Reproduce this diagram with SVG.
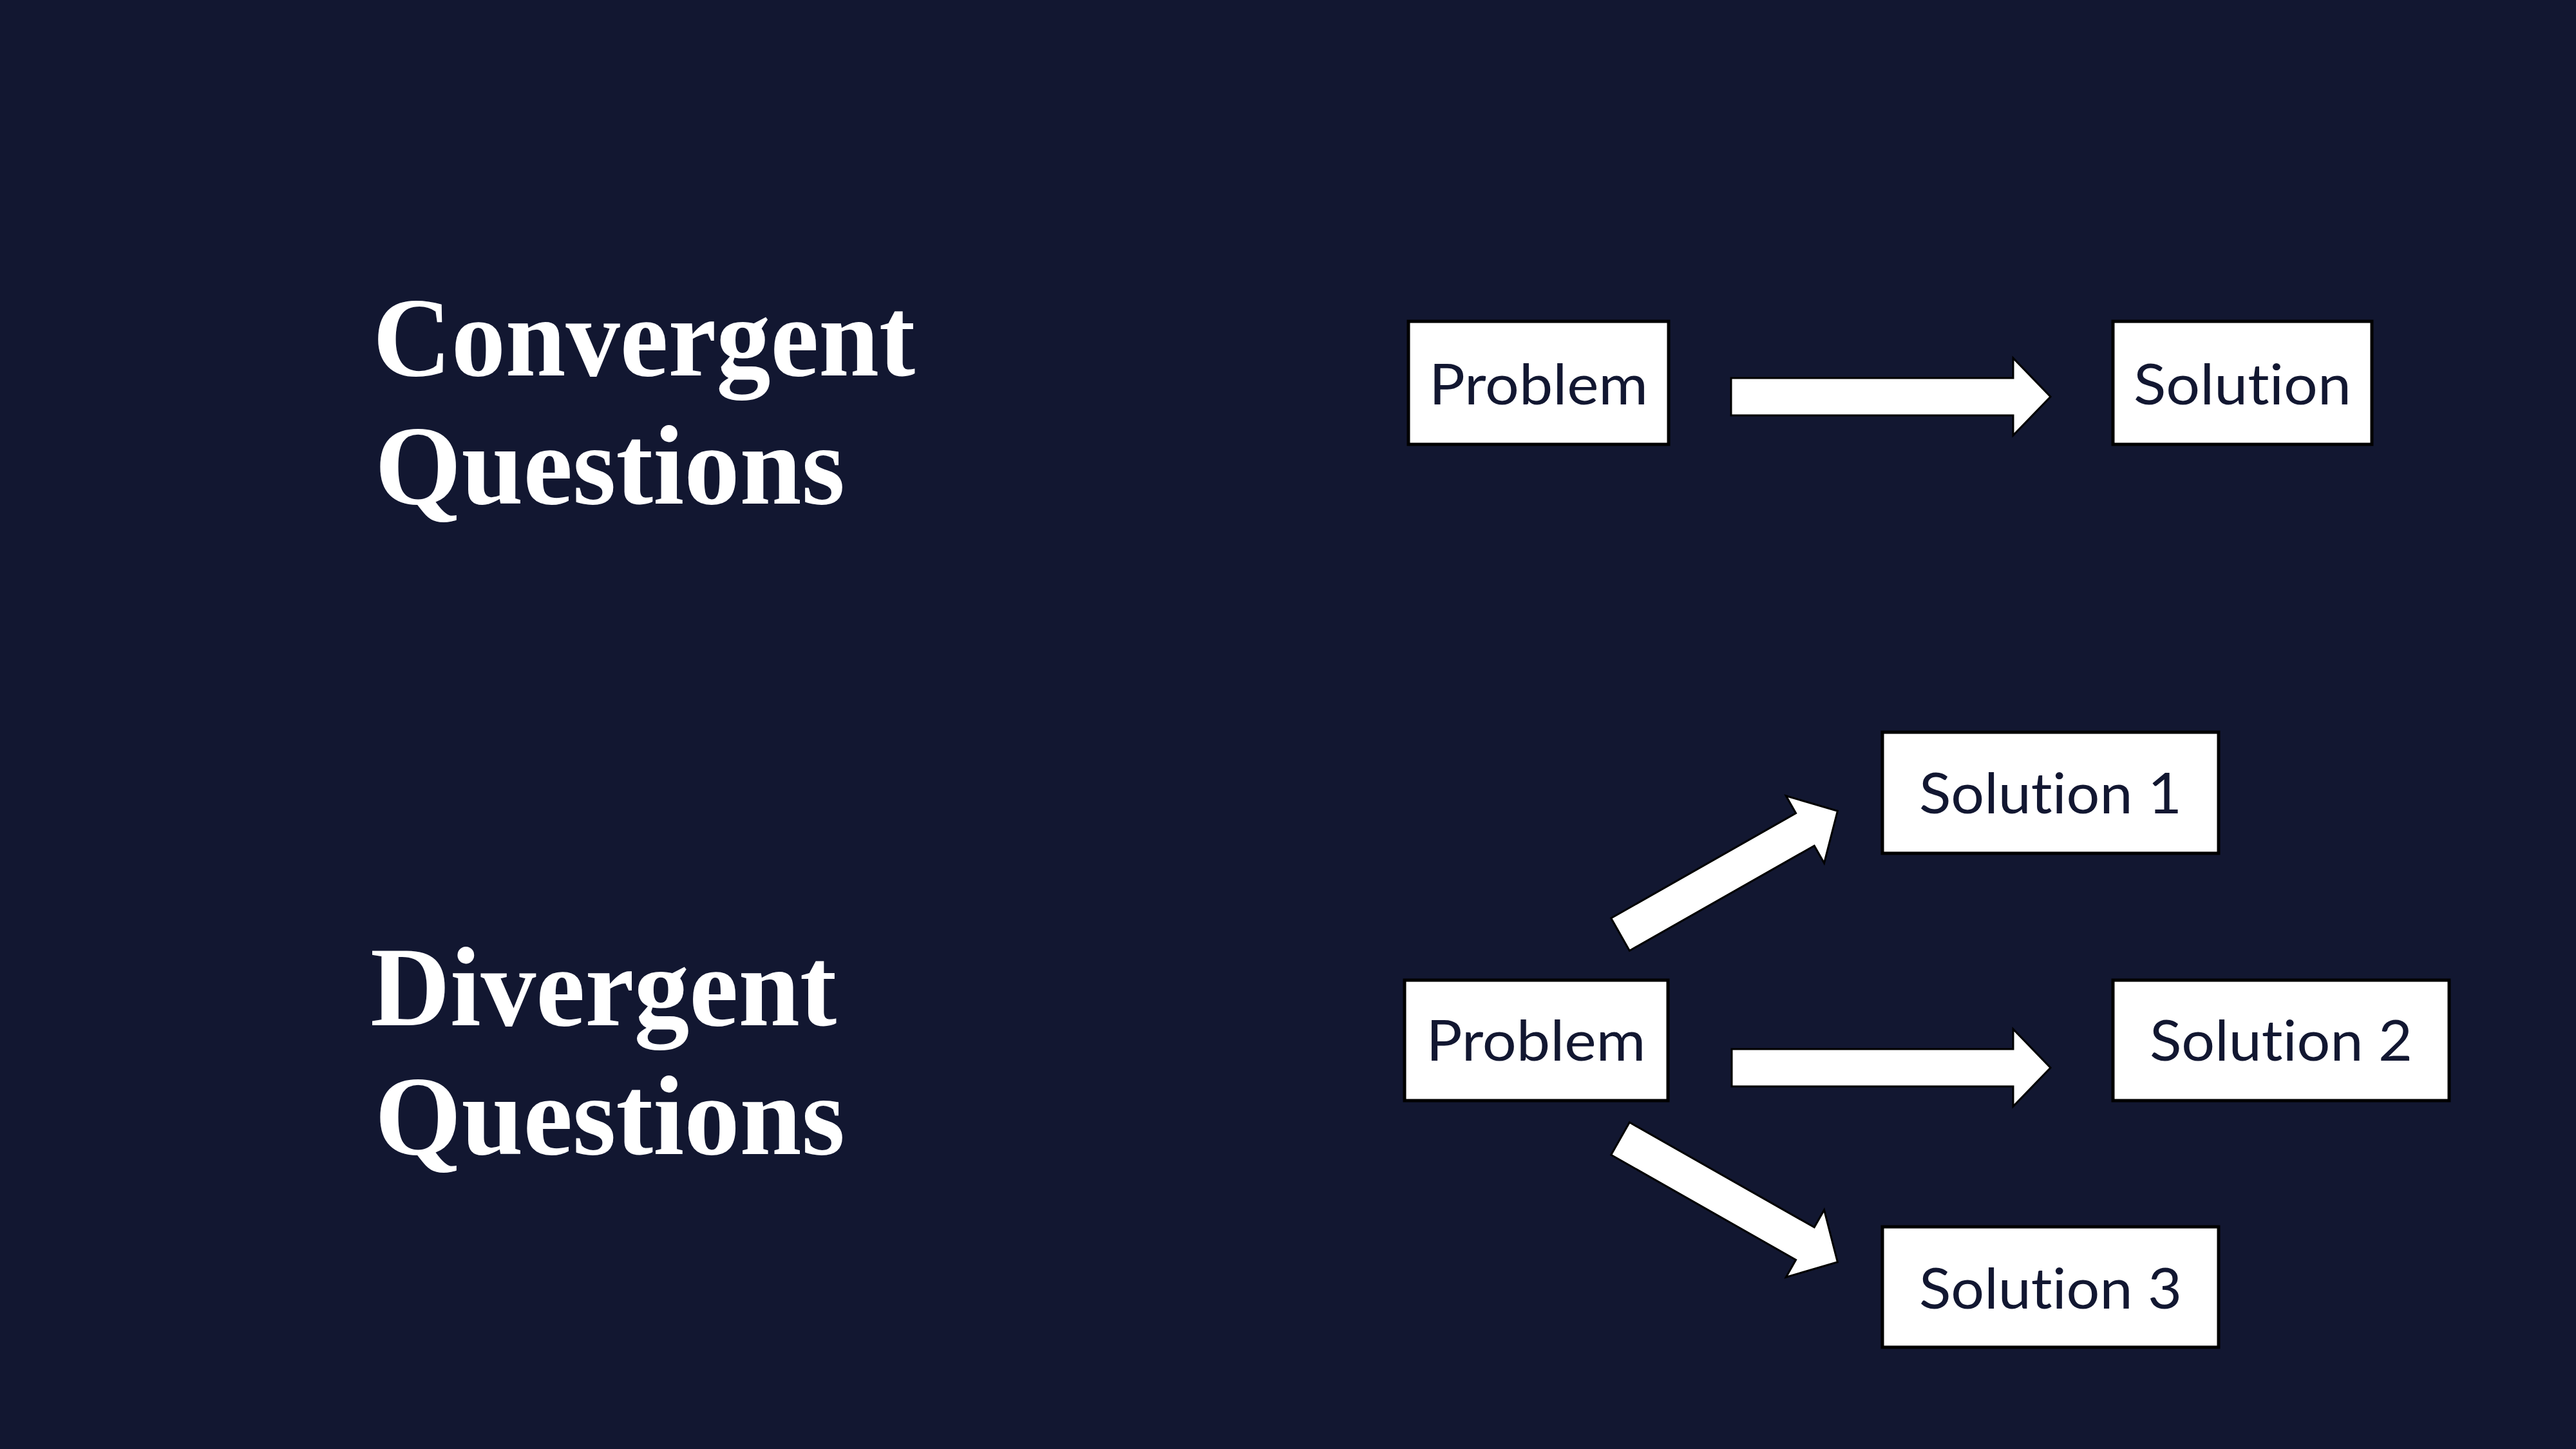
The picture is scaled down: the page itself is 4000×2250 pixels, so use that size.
<svg xmlns="http://www.w3.org/2000/svg" width="4000" height="2250" viewBox="0 0 4000 2250">
  <style>
    .title { font-family: "Liberation Serif", "DejaVu Serif", serif; font-weight: bold; font-size: 175px; fill: #ffffff; }
    .box { fill: #ffffff; stroke: #000000; stroke-width: 5; }
    .label { font-family: Lato, "Open Sans", "Liberation Sans", sans-serif; font-size: 88px; fill: #121731; text-anchor: middle; font-variant-ligatures: none; font-feature-settings: "liga" 0, "clig" 0; }
    .arrow { fill: #ffffff; stroke: #000000; stroke-width: 3; stroke-linejoin: miter; }
  </style>

  <!-- background -->
  <rect x="0" y="0" width="4000" height="2250" fill="#121731"/>

  <!-- headings -->
  <g id="heading-convergent">
    <text class="title" x="579" y="583" textLength="842" lengthAdjust="spacingAndGlyphs">Convergent</text>
    <text class="title" x="582" y="782" textLength="730" lengthAdjust="spacingAndGlyphs">Questions</text>
  </g>
  <g id="heading-divergent">
    <text class="title" x="575" y="1592" textLength="724" lengthAdjust="spacingAndGlyphs">Divergent</text>
    <text class="title" x="582" y="1792" textLength="730" lengthAdjust="spacingAndGlyphs">Questions</text>
  </g>

  <!-- connectors: block arrows -->
  <g id="connectors">
    <path id="arrow-conv" class="arrow" d="M2688,587 H3126 V556 L3184,616 L3126,676 V645 H2688 Z"/>
    <path id="arrow-div-1" class="arrow" transform="translate(2516,1451) rotate(-29.6)" d="M0,-29 H330 V-60 L388,0 L330,60 V29 H0 Z"/>
    <path id="arrow-div-2" class="arrow" d="M2689,1629 H3126 V1598 L3184,1658 L3126,1718 V1687 H2689 Z"/>
    <path id="arrow-div-3" class="arrow" transform="translate(2516,1768) rotate(29.6)" d="M0,-29 H330 V-60 L388,0 L330,60 V29 H0 Z"/>
  </g>

  <!-- convergent nodes -->
  <g id="conv-problem">
    <rect class="box" x="2187" y="499" width="404" height="191"/>
    <text class="label" x="2389" y="628" textLength="340" lengthAdjust="spacingAndGlyphs">Problem</text>
  </g>
  <g id="conv-solution">
    <rect class="box" x="3281" y="499" width="402" height="191"/>
    <text class="label" x="3482" y="628" textLength="338" lengthAdjust="spacingAndGlyphs">Solution</text>
  </g>

  <!-- divergent nodes -->
  <g id="div-problem">
    <rect class="box" x="2181" y="1522" width="409" height="187"/>
    <text class="label" x="2385" y="1647" textLength="341" lengthAdjust="spacingAndGlyphs">Problem</text>
  </g>
  <g id="div-solution-1">
    <rect class="box" x="2923" y="1137" width="522" height="188"/>
    <text class="label" x="3184" y="1263" textLength="408" lengthAdjust="spacingAndGlyphs">Solution 1</text>
  </g>
  <g id="div-solution-2">
    <rect class="box" x="3281" y="1522" width="522" height="187"/>
    <text class="label" x="3542" y="1647" textLength="408" lengthAdjust="spacingAndGlyphs">Solution 2</text>
  </g>
  <g id="div-solution-3">
    <rect class="box" x="2923" y="1905" width="522" height="187"/>
    <text class="label" x="3184" y="2032" textLength="408" lengthAdjust="spacingAndGlyphs">Solution 3</text>
  </g>
</svg>
